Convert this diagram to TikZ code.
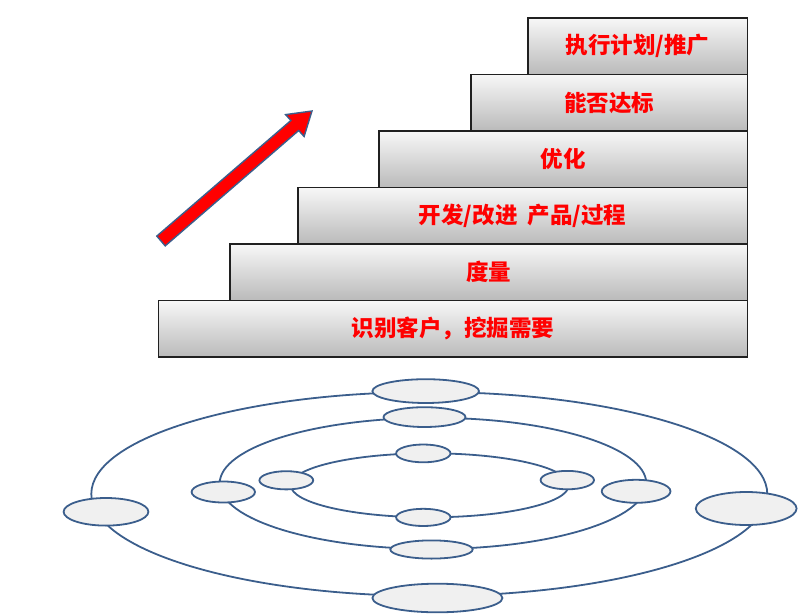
\documentclass[tikz,border=0pt]{standalone}
\usepackage{fontspec}
\newfontfamily\cjk{Noto Sans CJK SC}
\usetikzlibrary{shapes.geometric}
\definecolor{ringblue}{HTML}{3B5E8C}
\definecolor{ovalfill}{HTML}{F0F0F0}
\definecolor{txtred}{HTML}{FF0000}
\definecolor{stepborder}{HTML}{202020}
\tikzset{
  stepbox/.style={rectangle, draw=stepborder, line width=1.2pt, top color=white!97!black, bottom color=black!27,
    inner sep=0pt, anchor=north east, text=txtred, font=\cjk\bfseries\fontsize{22.5}{26}\selectfont},
  oval/.style={ellipse, draw=ringblue, fill=ovalfill, line width=1.8pt, inner sep=0pt},
  ring/.style={draw=ringblue, line width=1.8pt},
  uparrow/.style={draw=ringblue, fill=red, line width=1.4pt, line join=miter}
}
\begin{document}
\begin{tikzpicture}[x=1pt,y=-1pt]
\useasboundingbox (0,0) rectangle (812,616);
% steps
\node[stepbox, minimum width=589pt, minimum height=56.5pt] (s6) at (748,299.8) {识别客户，挖掘需要};
\node[stepbox, minimum width=517.5pt, minimum height=56.5pt] (s5) at (748,243.4) {度量};
\node[stepbox, minimum width=449.5pt, minimum height=56.8pt] (s4) at (748,186.6) {开发/改进\ \ 产品/过程};
\node[stepbox, minimum width=368.5pt, minimum height=56.3pt] (s3) at (748,130.4) {优化};
\node[stepbox, minimum width=276.5pt, minimum height=56.8pt] (s2) at (748,73.6) {能否达标};
\node[stepbox, minimum width=219.5pt, minimum height=56.3pt] (s1) at (748,17.3) {执行计划/推广};
% arrow
\coordinate (tail) at (161,241);
\coordinate (tip) at (312,111);
\draw[uparrow] (165.2,245.9) -- (298.7,130.5) -- (304.1,136.5) -- (tip) -- (285.6,114.6) -- (290.9,120.5) -- (156.8,236.1) -- cycle;
% rings
\draw[ring] (429.3,494) ellipse [x radius=338, y radius=102];
\draw[ring] (433,483.4) ellipse [x radius=213.3, y radius=65.6];
\draw[ring] (429.8,485.3) ellipse [x radius=139, y radius=32];
% outer ring ovals
\node[oval, minimum width=106.6pt, minimum height=23.8pt] (o1) at (425.7,391.1) {};
\node[oval, minimum width=84.8pt, minimum height=27.6pt] (o2) at (106,511.8) {};
\node[oval, minimum width=100.8pt, minimum height=33pt] (o3) at (746.2,508.5) {};
\node[oval, minimum width=130pt, minimum height=28.6pt] (o4) at (437.4,598) {};
% middle ring ovals
\node[oval, minimum width=82pt, minimum height=19.8pt] (m1) at (424.5,417.1) {};
\node[oval, minimum width=63.4pt, minimum height=21pt] (m2) at (223.3,492) {};
\node[oval, minimum width=68.8pt, minimum height=23pt] (m3) at (636.1,491.3) {};
\node[oval, minimum width=82.4pt, minimum height=18.2pt] (m4) at (431.5,549.5) {};
% inner ring ovals
\node[oval, minimum width=54.4pt, minimum height=17.8pt] (i1) at (423.3,453.4) {};
\node[oval, minimum width=53.8pt, minimum height=18.2pt] (i2) at (286.3,480.3) {};
\node[oval, minimum width=53.4pt, minimum height=18.4pt] (i3) at (567.3,480.1) {};
\node[oval, minimum width=54.4pt, minimum height=17.2pt] (i4) at (423.3,517.4) {};
\end{tikzpicture}
\end{document}
